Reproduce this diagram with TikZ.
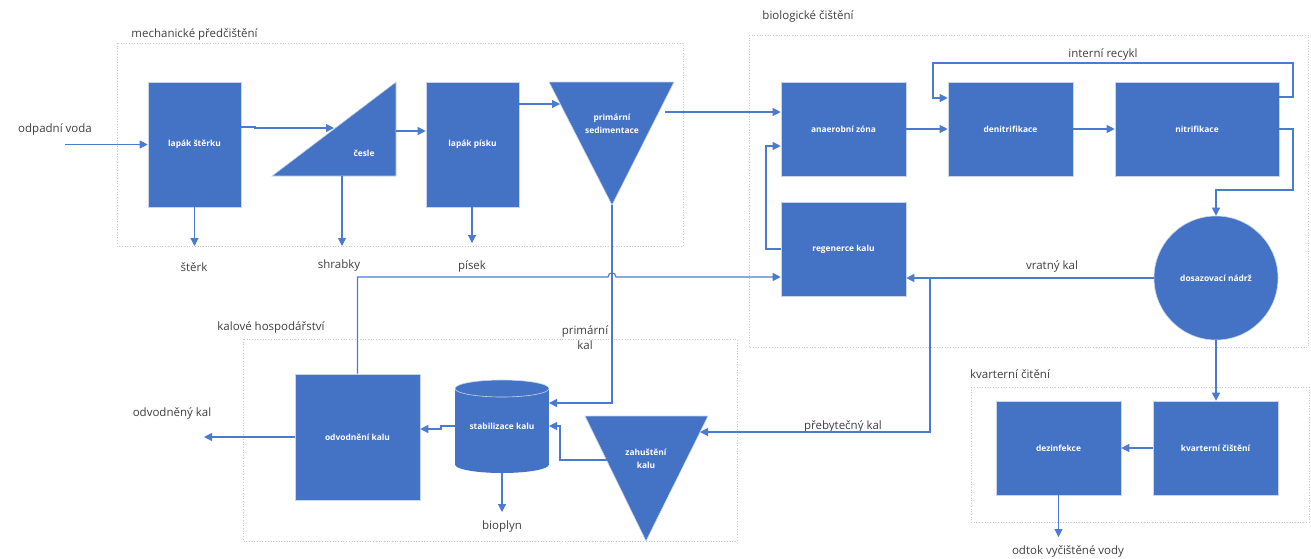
\documentclass[tikz,border=0pt]{standalone}
\usepackage{fontspec}
\setmainfont{Open Sans}
\usetikzlibrary{arrows.meta}
\definecolor{blu}{HTML}{4472C4}
\definecolor{lnc}{HTML}{4A7BD0}
\definecolor{grp}{HTML}{C8C8C8}
\definecolor{txt}{HTML}{404040}
\tikzset{
  box/.style={fill=blu, draw=white!70!blu, line width=0.6pt, text=white,
    font=\fontsize{8.4}{11}\selectfont\bfseries, align=center, inner sep=0pt},
  tritext/.style={text=white, font=\fontsize{8.4}{12.5}\selectfont\bfseries, align=center, inner sep=0pt},
  shapefill/.style={fill=blu, draw=white!70!blu, line width=0.6pt},
  grpbox/.style={draw=grp, dotted, line width=0.7pt},
  lbl/.style={text=txt, font=\fontsize{11.5}{15}\selectfont, inner sep=0pt, align=center},
  con/.style={draw=lnc, line width=1.1pt, -{Triangle[length=8pt,width=8pt]}},
  plainline/.style={draw=lnc, line width=1.1pt},
}
\begin{document}
\begin{tikzpicture}[x=1pt,y=-1pt]
\useasboundingbox (0,0) rectangle (1311,558);
\fill[white] (0,0) rectangle (1311,558);

% group boxes
\draw[grpbox] (117,43) rectangle (683,246);
\draw[grpbox] (749,35) rectangle (1308,347);
\draw[grpbox] (243,339) rectangle (737,541);
\draw[grpbox] (971,387) rectangle (1309,522);
\node[lbl] (gmech) at (194.5,34) {mechanické předčištění};
\node[lbl] (gbio) at (808,16) {biologické čištění};
\node[lbl] (gkal) at (271,327) {kalové hospodářství};
\node[lbl] (gkv) at (1010,374) {kvarterní čitění};

% rectangle nodes
\node[box, minimum width=93pt, minimum height=125pt] (lst) at (194.5,144.5) {lapák štěrku};
\node[box, minimum width=93pt, minimum height=125pt] (lps) at (472.5,144.5) {lapák písku};
\node[box, minimum width=125pt, minimum height=94pt] (anz) at (843.5,129) {anaerobní zóna};
\node[box, minimum width=125pt, minimum height=94pt] (den) at (1010.5,129) {denitrifikace};
\node[box, minimum width=164pt, minimum height=94pt] (nit) at (1197,129) {nitrifikace};
\node[box, minimum width=125pt, minimum height=94pt] (reg) at (843.5,249) {regenerce kalu};
\node[box, circle, minimum size=124pt] (dos) at (1216,278) {dosazovací nádrž};
\node[box, minimum width=125pt, minimum height=126pt] (odv) at (357.5,437) {odvodnění kalu};
\node[box, minimum width=125pt, minimum height=94pt] (dez) at (1058.5,448) {dezinfekce};
\node[box, minimum width=125pt, minimum height=94pt] (kvc) at (1215.5,448) {kvarterní čištění};

% triangles
\filldraw[shapefill] (272,176) -- (396,82) -- (396,176) -- cycle;
\node[tritext] (ces) at (364,153) {česle};
\filldraw[shapefill] (549,82) -- (674,82) -- (612,205) -- cycle;
\node[tritext] (sed) at (612,124) {primární\\sedimentace};
\filldraw[shapefill] (585,416) -- (708,416) -- (646,541) -- cycle;
\node[tritext] (zah) at (646,459) {zahuštění\\kalu};

% cylinder
\fill[blu] (455,388.5) rectangle (549,464.5);
\fill[blu] (502,464.5) ellipse [x radius=47pt, y radius=8.5pt];
\fill[blu] (502,388.5) ellipse [x radius=47pt, y radius=8.5pt];
\draw[white!70!blu, line width=0.6pt] (502,388.5) ellipse [x radius=47pt, y radius=8.5pt];
\node[tritext] (stab) at (502,426) {stabilizace kalu};

% attachment coordinates
\coordinate (in) at (65,144.5);
\coordinate (cesL) at (334,128);
\coordinate (cesR) at (396,131);
\coordinate (cesB) at (342,176);
\coordinate (sedL) at (560,104);
\coordinate (sedR) at (665,112);
\coordinate (sedB) at (612,205);
\coordinate (zahR) at (700,432);
\coordinate (zahL) at (606.5,460);
\coordinate (stabR) at (549,426);
\coordinate (stabRt) at (549,403);
\coordinate (stabL) at (455,426);
\coordinate (stabB) at (502,473);
\coordinate (jn) at (930,278);
\coordinate (outS) at (194.5,246);
\coordinate (outH) at (342,246);
\coordinate (outP) at (472,243);
\coordinate (outK) at (204,437);
\coordinate (outB) at (502,512);
\coordinate (outV) at (1058.5,537);

% labels
\node[lbl] (lvoda) at (55,129) {odpadní voda};
\node[lbl] (lsterk) at (194,267) {štěrk};
\node[lbl] (lshr) at (339,266) {shrabky};
\node[lbl] (lpis) at (472,266) {písek};
\node[lbl] (lrec) at (1103,54) {interní recykl};
\node[lbl] (lvrat) at (1052,266) {vratný kal};
\node[lbl] (lpreb) at (843,426) {přebytečný kal};
\node[lbl] (lprim) at (585,338) {primární\\kal};
\node[lbl] (lodv) at (172,413) {odvodněný kal};
\node[lbl] (lbio) at (502,527) {bioplyn};
\node[lbl] (lodt) at (1068,551) {odtok vyčištěné vody};

% connectors
\draw[con] (in) -- (lst.west);
\draw[con] (lst.east |- 0,127) -- (255,127) -- (255,128) -- (cesL);
\draw[con] (cesR) -- (lps.west |- cesR);
\draw[con] (lps.east |- sedL) -- (sedL);
\draw[con] (sedR) -- (anz.west |- sedR);
\draw[con] (anz.east) -- (den.west);
\draw[con] (den.east) -- (nit.west);
\draw[con] (nit.east) -- (1293,129) -- (1293,190) -- (1216,190) -- (dos.north);
\draw[con] (nit.east |- 0,97) -- (1293,97) -- (1293,63) -- (933,63) -- (933,98) -- (den.west |- 0,98);
\draw[con] (reg.west |- 0,249) -- (766,249) -- (766,146) -- (anz.west |- 0,146);
\draw[con] (dos.west) -- (reg.east |- dos.west);
\draw[con] (jn) -- (930,432) -- (zahR);
\draw[con] (sedB) -- (612,403) -- (stabRt);
\draw[con] (odv.north) -- (357.5,277) -- (608,277) .. controls (608,271.5) and (616,271.5) .. (616,277) -- (reg.west |- 0,277);
\draw[con] (stabL) -- (441,426) -- (441,429) -- (odv.east |- 0,429);
\draw[con] (zahL) -- (560,460) -- (560,426) -- (stabR);
\draw[con] (odv.west) -- (outK);
\draw[con] (stabB) -- (outB);
\draw[con] (lst.south) -- (outS);
\draw[con] (cesB) -- (outH);
\draw[con] (lps.south -| outP) -- (outP);
\draw[con] (dos.south) -- (dos.south |- kvc.north);
\draw[con] (kvc.west) -- (dez.east);
\draw[con] (dez.south) -- (outV);
\end{tikzpicture}
\end{document}
